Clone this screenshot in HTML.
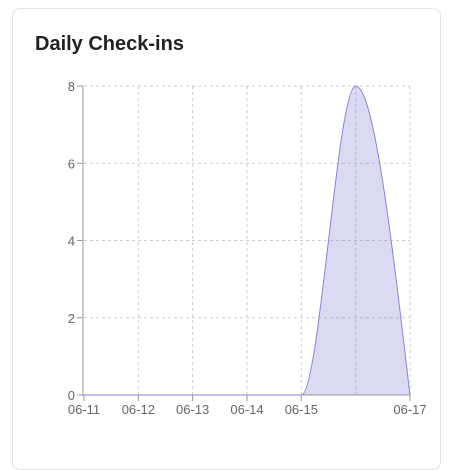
<!DOCTYPE html>
<html><head><meta charset="utf-8"><style>
body{margin:0;background:#fff;width:451px;height:447px;overflow:hidden;font-family:"Liberation Sans",sans-serif}
.card{position:absolute;left:12px;top:8px;width:427px;height:460px;border:1px solid #e3e3e3;border-radius:8px;background:#fff}
h2{position:absolute;left:35px;top:33px;margin:0;font-size:20px;font-weight:bold;color:#222}
svg{position:absolute;left:0;top:0}
text{font-size:13px;fill:#666;font-family:"Liberation Sans",sans-serif}
</style></head><body>
<div class="card"></div>
<h2>Daily Check-ins</h2>
<svg id="c" width="451" height="447"></svg>
<script>
const categories=["06-11","06-12","06-13","06-14","06-15","06-16","06-17"];
const values=[0,0,0,0,0,8,0];
const yTicks=[0,2,4,6,8];
const xLabels=["06-11","06-12","06-13","06-14","06-15","","06-17"];
const X0=84,X1=410,Y0=395,Y1=86,YMAX=8;
const sx=i=>X0+(X1-X0)*i/(categories.length-1);
const sy=v=>Y0-(Y0-Y1)*v/YMAX;
const svg=document.getElementById('c');const NS="http://www.w3.org/2000/svg";
function mk(t,a){const e=document.createElementNS(NS,t);for(const k in a)e.setAttribute(k,a[k]);svg.appendChild(e);return e;}
yTicks.forEach(v=>{const g=mk('line',{x1:X0,x2:X1,y1:sy(v),y2:sy(v),stroke:'#ccc','stroke-dasharray':'3 3'});

});
categories.forEach((c,i)=>{if(i===0)return;const g=mk('line',{x1:sx(i),x2:sx(i),y1:Y1,y2:Y0,stroke:'#ccc','stroke-dasharray':'3 3'});

});
const px=categories.map((c,i)=>sx(i)),py=values.map(sy);const n=px.length;
const s=[],t=[];for(let i=0;i<n-1;i++)s.push((py[i+1]-py[i])/(px[i+1]-px[i]));
for(let i=1;i<n-1;i++){const h0=px[i]-px[i-1],h1=px[i+1]-px[i];const s0=s[i-1],s1=s[i];const p=(s0*h1+s1*h0)/(h0+h1);
t[i]=(Math.sign(s0)+Math.sign(s1))*Math.min(Math.abs(s0),Math.abs(s1),0.5*Math.abs(p))||0;}
t[0]=(3*s[0]-t[1])/2;if(Math.sign(t[0])!==Math.sign(s[0]))t[0]=0;
t[n-1]=(3*s[n-2]-t[n-2])/2;if(Math.sign(t[n-1])!==Math.sign(s[n-2]))t[n-1]=0;
let d=`M${px[0]},${py[0]}`;for(let i=0;i<n-1;i++){const h=(px[i+1]-px[i])/3;
d+=`C${px[i]+h},${py[i]+h*t[i]},${px[i+1]-h},${py[i+1]-h*t[i+1]},${px[i+1]},${py[i+1]}`;}
const xa=mk('line',{x1:X0-1,x2:X1,y1:Y0,y2:Y0,stroke:'#999'});


const a=mk('path',{d:d+`L${X1},${Y0}L${X0},${Y0}Z`,fill:'#8884d8','fill-opacity':0.3,stroke:'none'});


const l=mk('path',{d:d,fill:'none',stroke:'#8884d8','stroke-width':1});


const ya=mk('line',{x1:X0-1,x2:X0-1,y1:Y1,y2:Y0,stroke:'#999'});


yTicks.forEach(v=>{mk('line',{x1:X0-7,x2:X0-1,y1:sy(v),y2:sy(v),stroke:'#999'});
const tx=mk('text',{x:X0-9,y:sy(v)+5,'text-anchor':'end'});tx.textContent=v;

});
categories.forEach((c,i)=>{if(!xLabels[i])return;mk('line',{x1:sx(i),x2:sx(i),y1:Y0,y2:Y0+6,stroke:'#999'});
const tx=mk('text',{x:sx(i),y:Y0+19,'text-anchor':'middle'});tx.textContent=xLabels[i];

});
</script>
</body></html>
